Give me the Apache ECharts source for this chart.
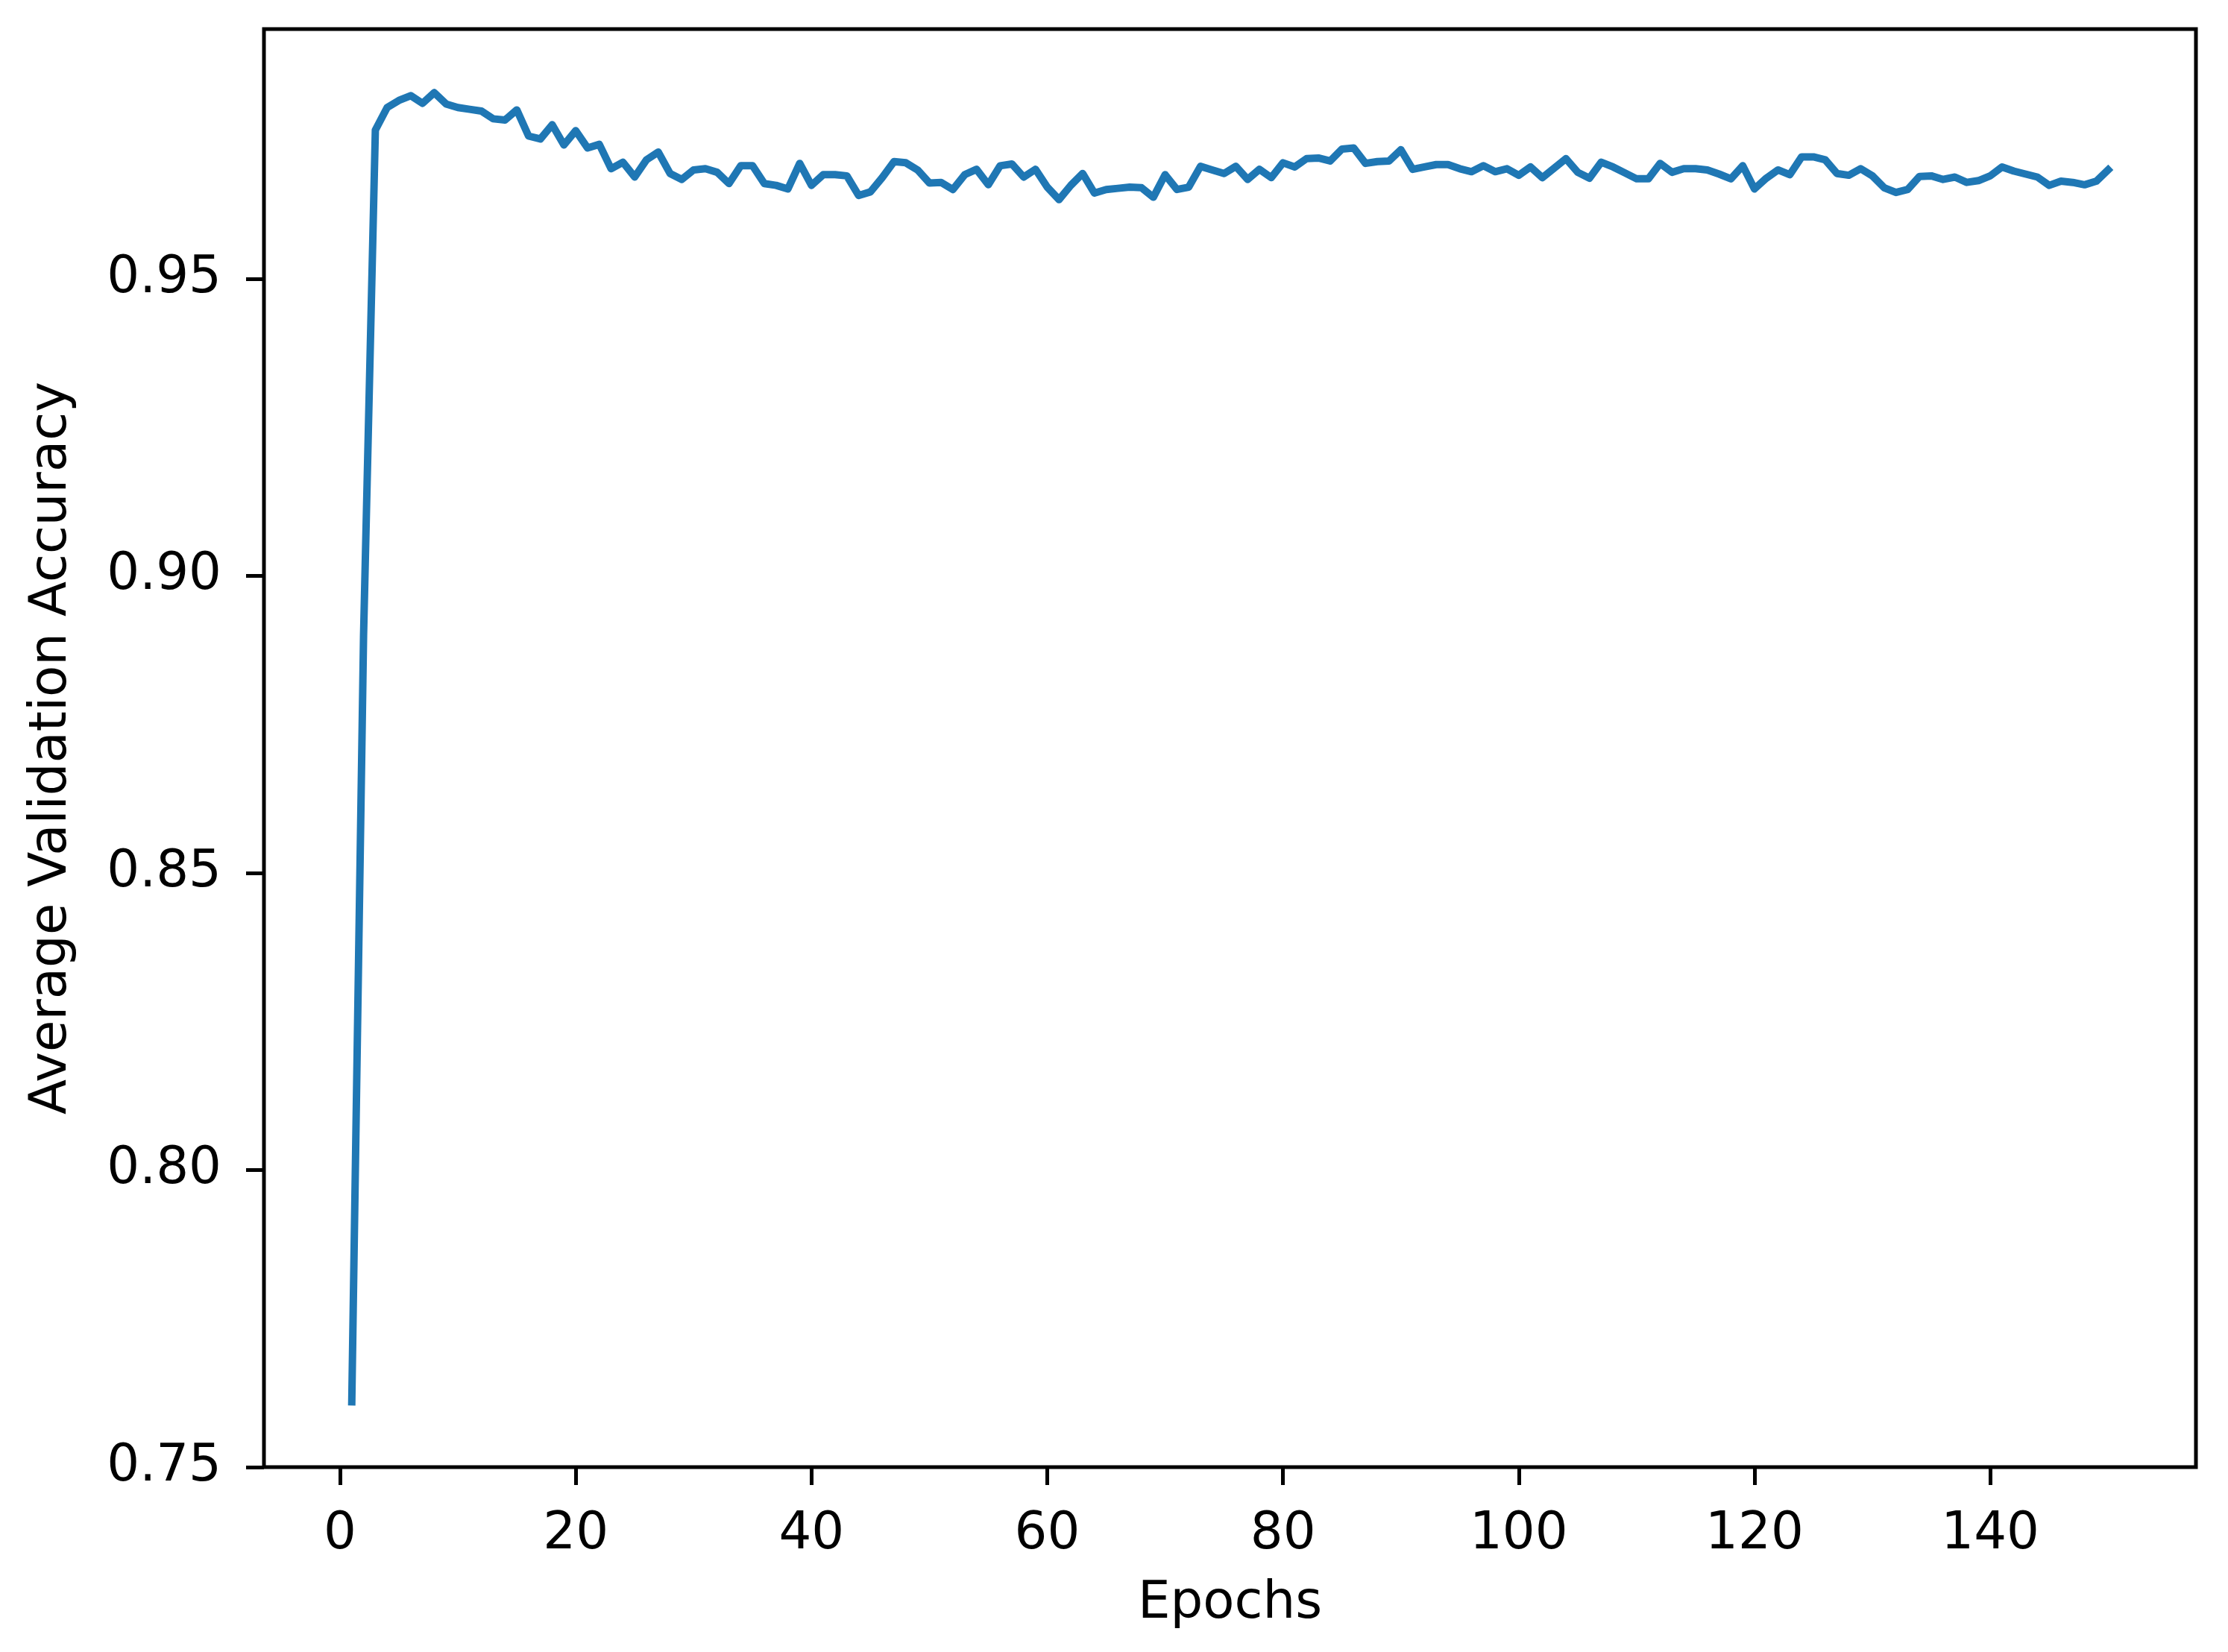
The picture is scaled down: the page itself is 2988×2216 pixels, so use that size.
<!DOCTYPE html>
<html>
<head>
<meta charset="utf-8">
<script src="https://cdn.jsdelivr.net/npm/echarts@6/dist/echarts.min.js"></script>
<style>
html,body{margin:0;padding:0;background:#fff;}
#chart{width:2988px;height:2216px;}
</style>
</head>
<body>
<div id="chart"></div>
<script>
const epochs = [1,2,3,4,5,6,7,8,9,10,11,12,13,14,15,16,17,18,19,20,21,22,23,24,25,26,27,28,29,30,
31,32,33,34,35,36,37,38,39,40,41,42,43,44,45,46,47,48,49,50,51,52,53,54,55,56,57,58,59,60,
61,62,63,64,65,66,67,68,69,70,71,72,73,74,75,76,77,78,79,80,81,82,83,84,85,86,87,88,89,90,
91,92,93,94,95,96,97,98,99,100,101,102,103,104,105,106,107,108,109,110,111,112,113,114,115,116,117,118,119,120,
121,122,123,124,125,126,127,128,129,130,131,132,133,134,135,136,137,138,139,140,141,142,143,144,145,146,147,148,149,150];

const accuracy = [
0.761,0.890,0.9750,0.9788,0.9800,0.9808,0.9795,0.9813,0.9794,0.9788,
0.9785,0.9782,0.9769,0.9767,0.9784,0.9740,0.9735,0.9759,0.9725,0.9749,
0.9720,0.9726,0.9685,0.9696,0.9671,0.9700,0.9713,0.9677,0.9667,0.9683,
0.9685,0.9679,0.9660,0.9690,0.9690,0.9660,0.9657,0.9651,0.9694,0.9657,
0.9675,0.9675,0.9673,0.9640,0.9646,0.9670,0.9697,0.9695,0.9683,0.9661,
0.9662,0.9650,0.9675,0.9684,0.9658,0.9690,0.9693,0.9671,0.9684,0.9654,
0.9633,0.9657,0.9677,0.9644,0.9650,0.9652,0.9654,0.9653,0.9637,0.9675,
0.9650,0.9654,0.9689,0.9683,0.9677,0.9689,0.9667,0.9684,0.9670,0.9695,
0.9688,0.9702,0.9703,0.9698,0.9718,0.9720,0.9694,0.9697,0.9698,0.9717,
0.9684,0.9688,0.9692,0.9692,0.9685,0.9680,0.9690,0.9680,0.9685,0.9674,
0.9688,0.9670,0.9686,0.9702,0.9679,0.9669,0.9696,0.9688,0.9678,0.9668,
0.9668,0.9694,0.9679,0.9685,0.9685,0.9683,0.9676,0.9668,0.9690,0.9651,
0.9669,0.9683,0.9675,0.9705,0.9705,0.9700,0.9677,0.9674,0.9685,0.9673,
0.9653,0.9645,0.9650,0.9672,0.9673,0.9667,0.9671,0.9662,0.9665,0.9673,
0.9688,0.9681,0.9676,0.9671,0.9657,0.9664,0.9662,0.9658,0.9664,0.9683];

const xTicks = [0,20,40,60,80,100,120,140];
const yTicks = [0.75,0.80,0.85,0.90,0.95];
const xTitle = 'Epochs';
const yTitle = 'Average Validation Accuracy';

const pairs = epochs.map((e,i)=>[e, accuracy[i]]);
const FONT = 'DejaVu Sans';
const chart = echarts.init(document.getElementById('chart'), null, {renderer:'canvas'});
chart.setOption({
  animation:false,
  backgroundColor:'#ffffff',
  grid:{left:354, top:39, right:43, bottom:248, show:true, borderColor:'#000', borderWidth:5, backgroundColor:'transparent'},
  xAxis:{
    type:'value', min:-6.45, max:157.45, position:'bottom',
    name:xTitle, nameLocation:'middle', nameGap:150,
    nameTextStyle:{fontFamily:FONT, fontSize:69, color:'#000'},
    axisLine:{show:false, onZero:false},
    axisTick:{show:true, length:24, lineStyle:{color:'#000', width:5}, customValues:xTicks},
    axisLabel:{show:true, margin:57, fontFamily:FONT, fontSize:69, color:'#000', customValues:xTicks,
      formatter:v=>String(v)},
    splitLine:{show:false}
  },
  yAxis:{
    type:'value', min:0.75, max:0.9920, position:'left',
    name:yTitle, nameLocation:'middle', nameGap:249,
    nameTextStyle:{fontFamily:FONT, fontSize:69, color:'#000'},
    axisLine:{show:false, onZero:false},
    axisTick:{show:true, length:24, lineStyle:{color:'#000', width:5}, customValues:yTicks},
    axisLabel:{show:true, margin:57, fontFamily:FONT, fontSize:69, color:'#000', customValues:yTicks,
      formatter:v=>Number(v).toFixed(2)},
    splitLine:{show:false}
  },
  series:[{
    type:'line', data:pairs, showSymbol:false, symbol:'none',
    lineStyle:{color:'#1f77b4', width:10, cap:'square', join:'round'},
    clip:true
  }]
});
</script>
</body>
</html>
